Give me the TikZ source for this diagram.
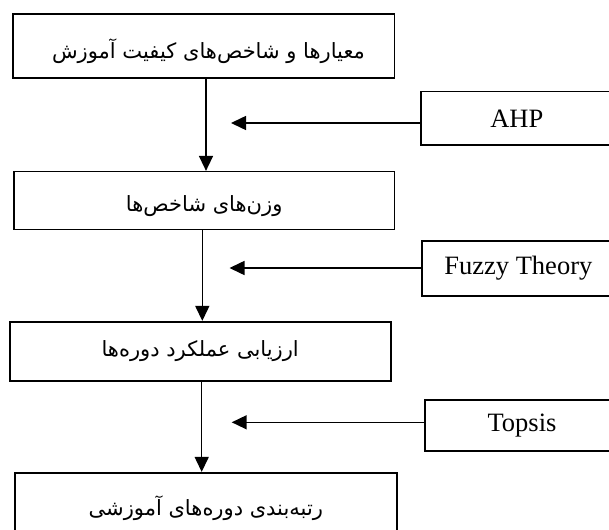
\documentclass[tikz,border=0pt]{standalone}
\usepackage{fontspec}
\setmainfont{Liberation Serif}
\newfontfamily\arabicfont[Script=Arabic]{DejaVu Sans}
\TeXXeTstate=1
\usetikzlibrary{arrows.meta}
\newcommand{\fa}[1]{{\arabicfont\fontsize{21}{25}\selectfont\beginR #1\endR}}
\begin{document}
\begin{tikzpicture}[x=1pt,y=-1pt,
  box/.style={draw=black,line width=1.6pt,fill=white,inner sep=0pt,anchor=center},
  arr/.style={line width=1.5pt,-{Triangle[length=15pt,width=14pt]}},
  lbl/.style={font=\fontsize{26.5}{30}\selectfont}]
\useasboundingbox (0,0) rectangle (609,529);
\fill[white] (0,0) rectangle (609,529);
% main boxes
\node[box,minimum width=381.6pt,minimum height=64.3pt] (b1) at (203.5,46.15) {\hspace*{10pt}\raisebox{-5pt}[\height][\depth]{\fa{معیارها و شاخص^^^^200cهای کیفیت آموزش}}};
\node[box,minimum width=380.3pt,minimum height=57.6pt] (b2) at (204.15,200.5) {\raisebox{-6pt}[\height][\depth]{\fa{وزن^^^^200cهای شاخص^^^^200cها}}};
\node[box,minimum width=381pt,minimum height=59pt] (b3) at (200.2,351.2) {\fa{ارزیابی عملکرد دوره^^^^200cها}};
\node[box,minimum width=381.7pt,minimum height=70pt] (b4) at (205.85,507.7) {\fa{رتبه^^^^200cبندی دوره^^^^200cهای آموزشی}};
% method boxes
\node[box,lbl,minimum width=192.3pt,minimum height=53.3pt] (ahp) at (516.85,118.35) {AHP};
\node[box,lbl,minimum width=193.3pt,minimum height=55.3pt] (fuz) at (518.35,268.35) {Fuzzy Theory};
\node[box,lbl,minimum width=194pt,minimum height=50.7pt] (top) at (522,425.35) {Topsis};
% coordinates
\coordinate (v1) at (206,0);
\coordinate (v2) at (202.3,0);
\coordinate (v3) at (201.7,0);
\coordinate (t1) at (231,123);
\coordinate (t2) at (229.5,268);
\coordinate (t3) at (231.7,422.3);
% vertical arrows
\draw[arr] (v1 |- b1.south) -- (v1 |- b2.north);
\draw[arr] (v2 |- b2.south) -- (v2 |- b3.north);
\draw[arr] (v3 |- b3.south) -- (v3 |- b4.north);
% horizontal arrows
\draw[arr] (ahp.west |- t1) -- (t1);
\draw[arr] (fuz.west |- t2) -- (t2);
\draw[arr] (top.west |- t3) -- (t3);
\end{tikzpicture}
\end{document}
